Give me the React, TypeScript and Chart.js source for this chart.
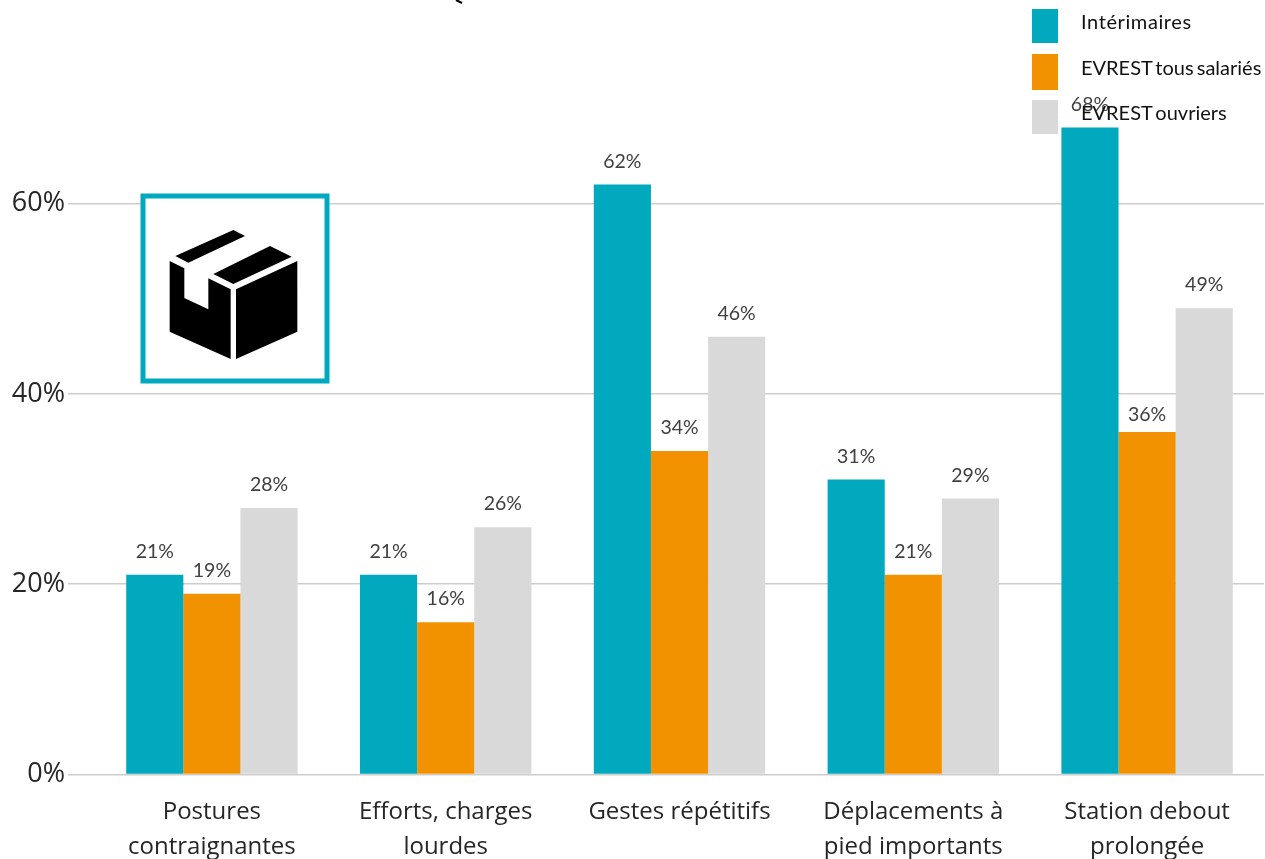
import React, { useEffect, useRef } from "react";
import { Chart, registerables } from "chart.js";

Chart.register(...registerables);

const categories = [
  ["Postures", "contraignantes"],
  ["Efforts, charges", "lourdes"],
  ["Gestes répétitifs"],
  ["Déplacements à", "pied importants"],
  ["Station debout", "prolongée"],
];
const interimaires = [21, 21, 62, 31, 68];
const evrestTous = [19, 16, 34, 21, 36];
const evrestOuvriers = [28, 26, 46, 29, 49];
const seriesNames = ["Intérimaires", "EVREST tous salariés", "EVREST ouvriers"];
const seriesColors = ["#00A9BD", "#F39200", "#D9D9D9"];
const yTicks = [0, 20, 40, 60];

const LABEL_FONT = "19.5px Lato, Carlito, sans-serif";
const AXIS_FONT = "Open Sans, sans-serif";

const dataLabels = {
  id: "dataLabels",
  afterDatasetsDraw(chart: any) {
    const { ctx } = chart;
    ctx.save();
    ctx.font = LABEL_FONT;
    ctx.fillStyle = "#404040";
    ctx.textAlign = "center";
    ctx.textBaseline = "alphabetic";
    chart.data.datasets.forEach((ds: any, i: number) => {
      chart.getDatasetMeta(i).data.forEach((bar: any, j: number) => {
        // The orange label of the last group sits closer to its bar in the reference.
        const gap = i === 1 && j === 4 ? 11 : 17;
        ctx.fillText(ds.data[j] + "%", bar.x, bar.y - gap);
      });
    });
    ctx.restore();
  },
};

const boxIcon = {
  id: "boxIcon",
  afterDatasetsDraw(chart: any) {
    const { ctx } = chart;
    ctx.save();
    ctx.fillStyle = "#ffffff";
    ctx.fillRect(143, 196, 184, 185);
    ctx.strokeStyle = "#00A9BD";
    ctx.lineWidth = 5;
    ctx.strokeRect(143, 196, 184, 185);
    ctx.fillStyle = "#000000";
    ctx.translate(130, 180);
    const s = 1 / 3;
    const poly = (pts: number[]) => {
      ctx.beginPath();
      for (let i = 0; i < pts.length; i += 2) {
        const x = pts[i] * s;
        const y = pts[i + 1] * s;
        if (i === 0) ctx.moveTo(x, y);
        else ctx.lineTo(x, y);
      }
      ctx.closePath();
      ctx.fill();
    };
    poly([136, 228, 310, 150, 345, 168, 175, 248]);
    poly([250, 282, 420, 198, 485, 230, 310, 312]);
    poly([119, 243, 163, 265, 163, 354, 235, 388, 235, 295, 302, 328, 302, 537, 119, 455]);
    poly([318, 328, 502, 243, 502, 455, 318, 537]);
    ctx.restore();
  },
};

const clippedMark = {
  id: "clippedMark",
  afterDraw(chart: any) {
    const { ctx } = chart;
    ctx.save();
    ctx.strokeStyle = "#000000";
    ctx.lineWidth = 2;
    ctx.beginPath();
    ctx.moveTo(456, 0);
    ctx.lineTo(462, 3);
    ctx.stroke();
    ctx.restore();
  },
};

export default function App() {
  const ref = useRef<HTMLCanvasElement>(null);

  useEffect(() => {
    document.body.style.margin = "0";
    const chart = new Chart(ref.current as HTMLCanvasElement, {
      type: "bar",
      data: {
        labels: categories,
        datasets: [
          { label: seriesNames[0], data: interimaires, backgroundColor: seriesColors[0] },
          { label: seriesNames[1], data: evrestTous, backgroundColor: seriesColors[1] },
          { label: seriesNames[2], data: evrestOuvriers, backgroundColor: seriesColors[2] },
        ],
      },
      options: {
        responsive: false,
        animation: false,
        layout: { padding: { top: 108.5, right: 1, left: 0, bottom: 0 } },
        datasets: { bar: { categoryPercentage: 0.733, barPercentage: 1 } },
        plugins: { legend: { display: false }, tooltip: { enabled: false } },
        scales: {
          x: {
            offset: true,
            grid: { display: false },
            border: { display: false },
            ticks: {
              color: "#262626",
              font: { family: AXIS_FONT, size: 24, lineHeight: 1.45 },
              padding: 12,
              maxRotation: 0,
              autoSkip: false,
            },
            afterFit(scale: any) {
              scale.height = 84.5;
            },
          },
          y: {
            min: 0,
            max: 70,
            afterBuildTicks(scale: any) {
              scale.ticks = yTicks.map((value) => ({ value }));
            },
            grid: { color: "#CDCDCD", lineWidth: 1.5, tickLength: 27 },
            border: { display: false },
            ticks: {
              color: "#262626",
              font: { family: AXIS_FONT, size: 27 },
              padding: 3,
              callback: (v: any) => v + "%",
            },
            afterFit(scale: any) {
              scale.width = 95;
            },
          },
        },
      },
      plugins: [dataLabels, boxIcon, clippedMark],
    } as any);
    return () => chart.destroy();
  }, []);

  const legendTops = [9, 54, 100];
  const legendHeights = [34, 36, 34];

  return (
    <div style={{ position: "relative", width: 1265, height: 859, overflow: "hidden", background: "#fff" }}>
      <canvas ref={ref} width={1265} height={859} style={{ display: "block" }} />
      {seriesNames.map((name, i) => (
        <React.Fragment key={name}>
          <div
            style={{
              position: "absolute",
              left: 1032,
              top: legendTops[i],
              width: 26,
              height: legendHeights[i],
              background: seriesColors[i],
            }}
          />
          <div
            style={{
              position: "absolute",
              left: 1081,
              top: legendTops[i] + legendHeights[i] / 2 - 20,
              height: 30,
              lineHeight: "30px",
              fontFamily: "Lato, Carlito, sans-serif",
              fontSize: 20,
              wordSpacing: -2,
              letterSpacing: i === 0 ? 0.6 : 0,
              color: "#111",
              whiteSpace: "nowrap",
            }}
          >
            {name}
          </div>
        </React.Fragment>
      ))}
    </div>
  );
}
